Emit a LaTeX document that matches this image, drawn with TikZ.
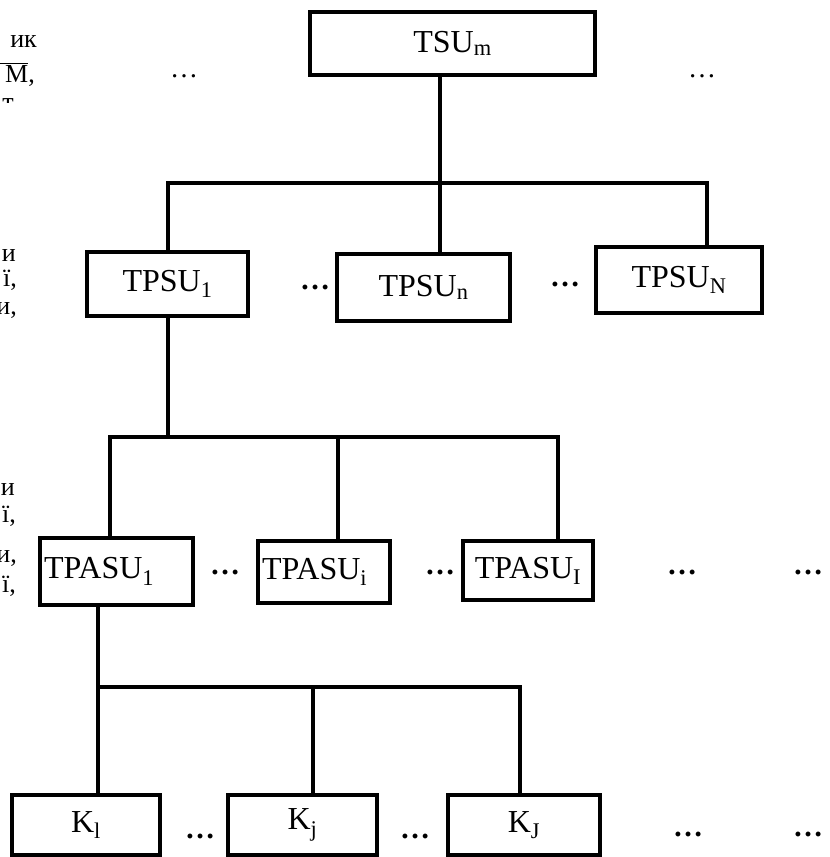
\documentclass[tikz,border=0pt]{standalone}
\usepackage{fontspec}
\setmainfont{Liberation Serif}
\begin{document}
\begin{tikzpicture}[x=1pt,y=-1pt,
  box/.style={draw, line width=3.5pt, inner sep=0pt, font=\fontsize{32}{36}\selectfont},
  lbox/.style={box, align=left, inner xsep=4pt},
  link/.style={line width=3.5pt},
  side/.style={font=\fontsize{26}{28}\selectfont, inner sep=0pt, anchor=base east},
  bdots/.style={font=\fontsize{30}{34}\selectfont\bfseries, inner sep=0pt, anchor=base},
  tdots/.style={font=\fontsize{28}{30}\selectfont, inner sep=0pt, anchor=base}]
\useasboundingbox (0,0) rectangle (830,857);

% left cut-off text
\node[side] (l1a) at (37,47) {ик};
\node[side] (l1b) at (35,82) {$\overline{\mbox{\hphantom{1,}M}}$,};
\begin{scope}
  \clip (0,90) rectangle (40,102);
  \node[side] (l1c) at (14,110) {т};
\end{scope}
\node[side] (l2a) at (16,261) {и};
\node[side] (l2b) at (17,286) {ї,};
\node[side] (l2c) at (17,314) {и,};
\node[side] (l3a) at (15,495) {и};
\node[side] (l3b) at (16,522) {ї,};
\node[side] (l3c) at (17,562) {и,};
\node[side] (l3d) at (16,592) {ї,};

% boxes
\node[box, minimum width=285, minimum height=63] (tsu) at (452.5,43.5) {TSU\textsubscript{m}};
\node[box, minimum width=161, minimum height=64] (tpsu1) at (167.5,284) {TPSU\textsubscript{1}};
\node[box, minimum width=173, minimum height=67] (tpsun) at (423.5,287.5) {TPSU\textsubscript{n}};
\node[box, minimum width=166, minimum height=66] (tpsuN) at (679,280) {TPSU\textsubscript{N}};
\node[lbox, minimum width=153, minimum height=67, text width=145] (tpasu1) at (116.5,571.5) {TPASU\textsubscript{1}};
\node[lbox, minimum width=132, minimum height=62, text width=124] (tpasui) at (324,572) {TPASU\textsubscript{i}};
\node[box, minimum width=130, minimum height=59] (tpasuI) at (528,570.5) {TPASU\textsubscript{I}};
\node[box, minimum width=148, minimum height=60] (k1) at (86,825) {K\textsubscript{l}};
\node[box, minimum width=149, minimum height=60] (kj) at (302.5,825) {K\textsubscript{j}};
\node[box, minimum width=152, minimum height=60] (kJ) at (524,825) {K\textsubscript{J}};

% dots
\node[tdots] (d0a) at (184,77) {…};
\node[tdots] (d0b) at (702,77) {…};
\node[bdots] (d1a) at (315,289) {…};
\node[bdots] (d1b) at (565,286) {…};
\node[bdots] (d2a) at (225,574) {…};
\node[bdots] (d2b) at (440,574) {…};
\node[bdots] (d2c) at (682,574) {…};
\node[bdots] (d2d) at (808,574) {…};
\node[bdots] (d3a) at (200,838) {…};
\node[bdots] (d3b) at (415,838) {…};
\node[bdots] (d3c) at (688,836) {…};
\node[bdots] (d3d) at (808,836) {…};

% connectors level 1
\coordinate (j1) at (440,183);
\coordinate (j1l) at (168,183);
\coordinate (j1r) at (707,183);
\draw[link] (tsu.south -| j1) -- (j1) -- (j1 |- tpsun.north);
\draw[link] (j1l |- tpsu1.north) -- (j1l) -- (j1r) -- (j1r |- tpsuN.north);

% connectors level 2
\coordinate (j2) at (168,437);
\coordinate (j2l) at (110,437);
\coordinate (j2m) at (338,437);
\coordinate (j2r) at (558,437);
\draw[link] (j2 |- tpsu1.south) -- (j2);
\draw[link] (j2l |- tpasu1.north) -- (j2l) -- (j2r) -- (j2r |- tpasuI.north);
\draw[link] (j2m) -- (j2m |- tpasui.north);

% connectors level 3
\coordinate (j3l) at (98,687);
\coordinate (j3m) at (313,687);
\coordinate (j3r) at (520,687);
\draw[link] (j3l |- tpasu1.south) -- (j3l) -- (j3r) -- (j3r |- kJ.north);
\draw[link] (j3l) -- (j3l |- k1.north);
\draw[link] (j3m) -- (j3m |- kj.north);
\end{tikzpicture}
\end{document}
